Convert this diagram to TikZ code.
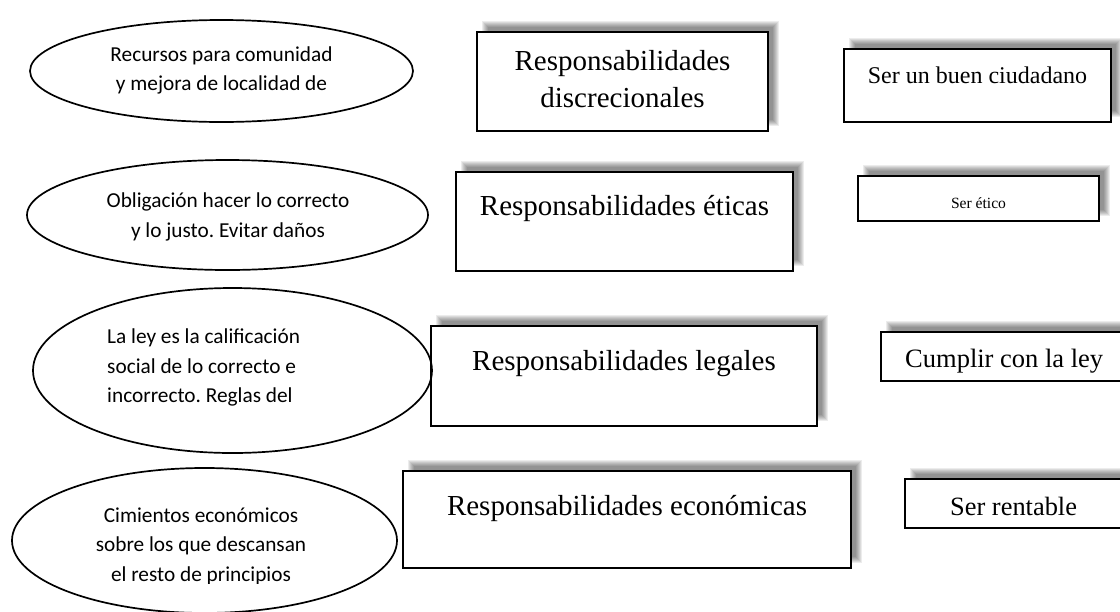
\documentclass[tikz,border=0pt]{standalone}
\usepackage{fontspec}
\setmainfont{Liberation Serif}
\newfontfamily\carlito{Carlito}
\usetikzlibrary{shapes.geometric}
\frenchspacing
\tikzset{
  rbox/.style={draw=black, line width=1.6pt, fill=white, inner sep=0pt, rectangle},
  oval/.style={draw=black, line width=1.7pt, ellipse, inner sep=0pt},
  otext/.style={font=\carlito\fontsize{21.3}{29.5}\selectfont, align=center, inner sep=0pt},
  btext/.style={font=\fontsize{29}{37}\selectfont, inner sep=0pt},
}
% blurred shadow shifted up and to the right (x1,y1,x2,y2 in picture units)
\newcommand\rshadow[4]{%
  \foreach \k in {0,...,6}{\fill[black,opacity=0.075] (#1+5+\k,#4-5-\k) rectangle (#3+11-\k,#2-11+\k);}}
\begin{document}
\begin{tikzpicture}[x=1pt,y=-1pt]
\useasboundingbox (0,0) rectangle (1120,611);
\fill[white] (0,0) rectangle (1120,611);

% middle column boxes
\rshadow{477}{32}{768}{131}
\node[rbox, minimum width=291pt, minimum height=99pt] (b1) at (622.5,81.5) {};
\rshadow{456}{172}{793}{271}
\node[rbox, minimum width=337pt, minimum height=99pt] (b2) at (624.5,221.5) {};
\rshadow{431}{326}{817}{426}
\node[rbox, minimum width=386pt, minimum height=100pt] (b3) at (624,376) {};
\rshadow{403}{471}{851}{568}
\node[rbox, minimum width=448pt, minimum height=97pt] (b4) at (627,519.5) {};

% right column boxes
\rshadow{844}{49}{1111}{122}
\node[rbox, minimum width=267pt, minimum height=73pt] (r1) at (977.5,85.5) {};
\rshadow{858}{176}{1099}{221}
\node[rbox, minimum width=241pt, minimum height=45pt] (r2) at (978.5,198.5) {};
\rshadow{881}{332}{1130}{381}
\node[rbox, minimum width=249pt, minimum height=49pt] (r3) at (1005.5,356.5) {};
\rshadow{905}{479}{1130}{528}
\node[rbox, minimum width=225pt, minimum height=49pt] (r4) at (1017.5,503.5) {};

% box texts
\node[btext, align=center, anchor=north] (t1) at (622.5,50.5) {Responsabilidades\\discrecionales};
\node[btext, anchor=base] (t2) at (624.5,215) {Responsabilidades éticas};
\node[btext, anchor=base] (t3) at (624,370) {Responsabilidades legales};
\node[btext, anchor=base] (t4) at (627,515) {Responsabilidades económicas};
\node[inner sep=0pt, font=\fontsize{24}{28}\selectfont, anchor=base] (u1) at (977.5,83) {Ser un buen ciudadano};
\node[inner sep=0pt, font=\fontsize{15.6}{18}\selectfont, anchor=base] (u2) at (978.5,208) {Ser ético};
\node[inner sep=0pt, font=\fontsize{26.5}{30}\selectfont, anchor=base west] (u3) at (905,367) {Cumplir con la ley};
\node[inner sep=0pt, font=\fontsize{26.4}{30}\selectfont, anchor=base west] (u4) at (950,515) {Ser rentable};

% ellipses
\node[oval, minimum width=383pt, minimum height=102pt] (e1) at (221.5,71) {};
\node[oval, minimum width=401pt, minimum height=110pt] (e2) at (227.5,215) {};
\node[oval, minimum width=399pt, minimum height=165pt] (e3) at (232.5,370.5) {};
\node[oval, minimum width=385pt, minimum height=145pt] (e4) at (204.5,540.5) {};

\node[otext] (s1) at (221.5,70.5) {Recursos para comunidad\\y mejora de localidad de};
\node[otext] (s2) at (228,217) {Obligación hacer lo correcto\\y lo justo. Evitar daños};
\node[otext, align=left, anchor=west] (s3) at (107,367.5) {La ley es la calificación\\social de lo correcto e\\incorrecto. Reglas del};
\begin{scope}
  \clip (0,480) rectangle (420,583);
  \node[otext] (s4) at (201,546) {Cimientos económicos\\sobre los que descansan\\el resto de principios};
\end{scope}
\end{tikzpicture}
\end{document}
